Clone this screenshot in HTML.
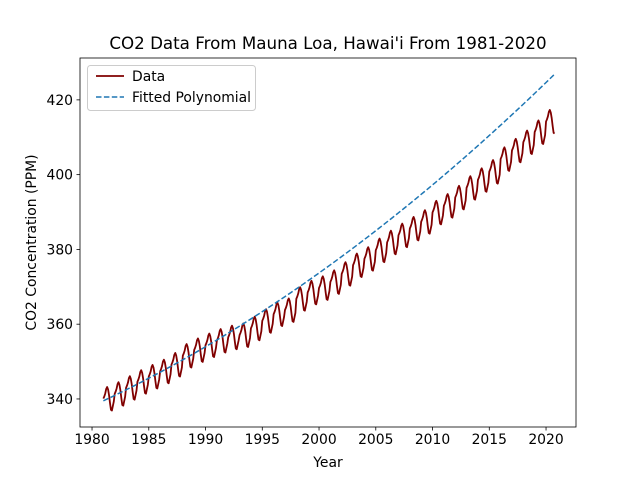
<!DOCTYPE html>
<html><head><meta charset="utf-8"><style>
body{margin:0;background:#fff}
svg{font-family:"DejaVu Sans","Liberation Sans",sans-serif}
</style></head><body>
<svg id="chart" width="640" height="480" xmlns="http://www.w3.org/2000/svg"></svg>
<script>
const years=[1981,1982,1983,1984,1985,1986,1987,1988,1989,1990,1991,1992,1993,1994,1995,1996,1997,1998,1999,2000,2001,2002,2003,2004,2005,2006,2007,2008,2009,2010,2011,2012,2013,2014,2015,2016,2017,2018,2019,2020];
const annualMeans=[340.1,341.4,343.0,344.6,346.0,347.4,349.2,351.6,353.1,354.4,355.6,356.5,357.1,358.9,360.9,362.7,363.8,366.8,368.5,369.7,371.3,373.5,375.8,377.5,379.8,381.9,383.8,385.6,387.4,389.9,391.7,393.9,396.5,398.6,400.8,404.2,406.5,408.7,411.4,414.2];
const seasonalOffsets=[0.0,0.6,1.4,2.6,3.1,2.4,0.9,-1.2,-3.0,-3.2,-2.0,-0.8];
const lastYearMonths=10;
const fitCoeffs=[339.5,1.436,0.01916];
const fitStartYear=1981;
const xTicks=[1980,1985,1990,1995,2000,2005,2010,2015,2020];
const yTicks=[340,360,380,400,420];

const L=80,R=576,T=58,B=427;
const xMin=1978.94,xMax=2022.64,yMin=332.5,yMax=431.2;
const X=v=>L+(v-xMin)/(xMax-xMin)*(R-L);
const Y=v=>B-(v-yMin)/(yMax-yMin)*(B-T);
const svg=document.getElementById('chart');
const NS='http://www.w3.org/2000/svg';
function mk(tag,attrs,parent){const e=document.createElementNS(NS,tag);for(const k in attrs)e.setAttribute(k,attrs[k]);(parent||svg).appendChild(e);return e;}
function txt(s,attrs){const e=mk('text',attrs);e.textContent=s;return e;}

// data series
let pts=[];
years.forEach((yr,i)=>{const n=(i===years.length-1)?lastYearMonths:12;for(let m=0;m<n;m++){pts.push([X(yr+m/12),Y(annualMeans[i]+seasonalOffsets[m])]);}});
const dl=mk('polyline',{points:pts.map(p=>p.join(',')).join(' '),fill:'none',stroke:'#800000','stroke-width':1.8,'stroke-linejoin':'round'});


// fit
let fp=[];const xEnd=years[years.length-1]+(lastYearMonths-1)/12;
for(let x=fitStartYear;x<=xEnd+1e-9;x+=0.25){const t=x-fitStartYear;fp.push([X(x),Y(fitCoeffs[0]+fitCoeffs[1]*t+fitCoeffs[2]*t*t)]);}
const fl=mk('polyline',{points:fp.map(p=>p.join(',')).join(' '),fill:'none',stroke:'#1f77b4','stroke-width':1.5,'stroke-dasharray':'5.5,2.4'});



// axes frame
const fr=mk('rect',{x:L,y:T,width:R-L,height:B-T,fill:'none',stroke:'#000','stroke-width':0.8});


xTicks.forEach(v=>{const x=X(v);mk('line',{x1:x,x2:x,y1:B,y2:B+3.5,stroke:'#000','stroke-width':0.8});
 const t=txt(v,{x:x,y:B+17,'text-anchor':'middle','font-size':'13.9px'});
 
 });
yTicks.forEach(v=>{const y=Y(v);mk('line',{x1:L-3.5,x2:L,y1:y,y2:y,stroke:'#000','stroke-width':0.8});
 const t=txt(v,{x:L-7,y:y+5,'text-anchor':'end','font-size':'13.9px'});
 
 });
const xt=txt('Year',{x:(L+R)/2,y:467,'text-anchor':'middle','font-size':'13.9px'});


const yt=txt('CO2 Concentration (PPM)',{x:0,y:0,'text-anchor':'middle','font-size':'13.9px',transform:`translate(36,${(T+B)/2}) rotate(-90)`});


const tt=txt("CO2 Data From Mauna Loa, Hawai'i From 1981-2020",{x:(L+R)/2,y:49,'text-anchor':'middle','font-size':'16.7px'});



// legend
const lg=mk('g',{});


mk('rect',{x:87.5,y:65.5,width:168,height:45,rx:3,fill:'#fff','fill-opacity':0.8,stroke:'#ccc'},lg);
mk('line',{x1:96,x2:124,y1:76,y2:76,stroke:'#800000','stroke-width':1.8},lg);
const l1=mk('text',{x:132,y:81,'font-size':'13.9px'},lg);l1.textContent='Data';


mk('line',{x1:96,x2:124,y1:97,y2:97,stroke:'#1f77b4','stroke-width':1.5,'stroke-dasharray':'5.5,2.4'},lg);
const l2=mk('text',{x:132,y:102,'font-size':'13.9px'},lg);l2.textContent='Fitted Polynomial';


</script>
</body></html>
